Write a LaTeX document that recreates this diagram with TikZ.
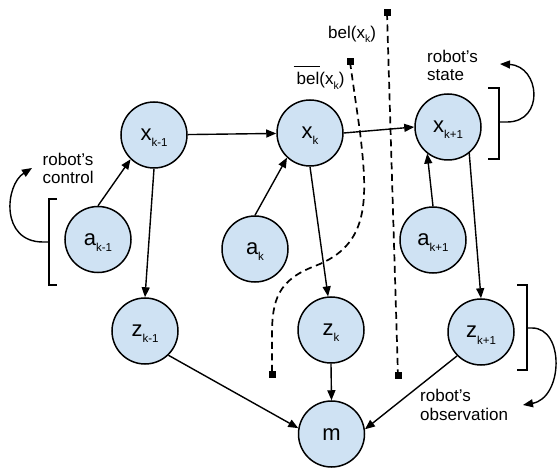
\documentclass[tikz,border=0pt]{standalone}
\usepackage{fontspec}
\setmainfont{Liberation Sans}
\usetikzlibrary{arrows.meta}
\definecolor{nodefill}{HTML}{CFE2F3}
% subscripts inside the variable circles and in the belief labels
\newcommand{\nodesub}[1]{\raisebox{-6pt}{\fontsize{11.5}{12}\selectfont #1}}
\newcommand{\labsub}[1]{\raisebox{-4.5pt}{\fontsize{10.5}{11}\selectfont #1}}
% "bel" with a bar over it (predicted belief)
\newcommand{\barbel}{\leavevmode\rlap{\kern-3pt\rule[18pt]{26.5pt}{1.2pt}}bel}
\begin{document}
\begin{tikzpicture}[x=1pt,y=-1pt,
  var/.style={circle, draw=black, line width=1.5pt, fill=nodefill,
    minimum size=66pt, inner sep=0pt, font=\fontsize{22}{24}\selectfont,
    text height=12pt, text depth=0pt},
  arr/.style={line width=1.4pt, -{Triangle[length=10pt,width=8pt]}},
  bracket/.style={line width=1.4pt},
  belline/.style={line width=1.7pt, dash pattern=on 7pt off 4.5pt},
  marker/.style={rectangle, fill=black, minimum size=7pt, inner sep=0pt},
  lab/.style={font=\fontsize{17}{18.5}\selectfont, align=left, inner sep=0pt, anchor=north west},
  bellab/.style={font=\fontsize{17}{18.5}\selectfont, inner sep=0pt, anchor=base west}]
\useasboundingbox (0,0) rectangle (558,468);

% belief markers (dashed separators)
\coordinate (belA) at (387,13);
\coordinate (belB) at (398,376);
\coordinate (barA) at (350,62);
\coordinate (barB) at (272,375);
\draw[belline] (belA) -- (belB);
\draw[belline] (barA) -- (360,132) .. controls (368,200) and (370,245) .. (315,266)
  .. controls (278,280) and (272,300) .. (272,335) -- (barB);
\foreach \p in {belA,belB,barA,barB} \node[marker] at (\p) {};

% variables
\node[var] (xk1) at (154,135) {x\nodesub{k-1}};
\node[var] (xk)  at (310,133) {x\nodesub{k}};
\node[var] (xk2) at (448,127) {x\nodesub{k+1}};
\node[var] (ak1) at (98,239.5) {a\nodesub{k-1}};
\node[var] (ak)  at (255,249) {a\nodesub{k}};
\node[var] (ak2) at (433,240) {a\nodesub{k+1}};
\node[var] (zk1) at (145,331) {z\nodesub{k-1}};
\node[var] (zk)  at (331,330) {z\nodesub{k}};
\node[var] (zk2) at (481,332) {z\nodesub{k+1}};
\node[var] (m)   at (331.5,434) {m};

% dependencies
\draw[arr] (xk1) -- (xk);
\draw[arr] (xk.east) -- (xk2.west);
\draw[arr] (ak1.north) -- (xk1.226);
\draw[arr] (ak.north) -- (xk.227);
\draw[arr] (ak2.north) -- (xk2.232);
\draw[arr] (xk1.south) -- (zk1.north);
\draw[arr] (xk.south) -- (zk.95);
\draw[arr] (xk2.309) -- (zk2.north);
\draw[arr] (zk1.314) -- (m.170);
\draw[arr] (zk.south) -- (m.north);
\draw[arr] (zk2.225) -- (m.8);

% labels
\node[lab] (ctl) at (42.5,152.7) {robot’s\\control};
\node[lab] (st) at (427,49.9) {robot’s\\state};
\node[lab] (obs) at (420,389.2) {robot’s\\observation};
\node[bellab] (bel) at (328,38.5) {bel(x\labsub{k})};
\node[bellab] (belbar) at (296.5,85) {\barbel(x\labsub{k})};

% brackets with arrows to their labels
\coordinate (ctlTip) at (32,168);
\coordinate (stTip) at (500,64);
\coordinate (obsTip) at (523,405);
\draw[bracket] (57,199) -- (49,199) -- (49,285) -- (57,285);
\draw[arr] (49,242) -- (43,242) .. controls (0,242) and (5,185) .. (ctlTip);
\draw[bracket] (488,88) -- (499,88) -- (499,159) -- (488,159);
\draw[arr] (499,122) -- (507,122) .. controls (545,122) and (540,66) .. (stTip);
\draw[bracket] (517,285) -- (527,285) -- (527,370) -- (517,370);
\draw[arr] (527,328) -- (532,328) .. controls (565,328) and (563,398) .. (obsTip);
\end{tikzpicture}
\end{document}
